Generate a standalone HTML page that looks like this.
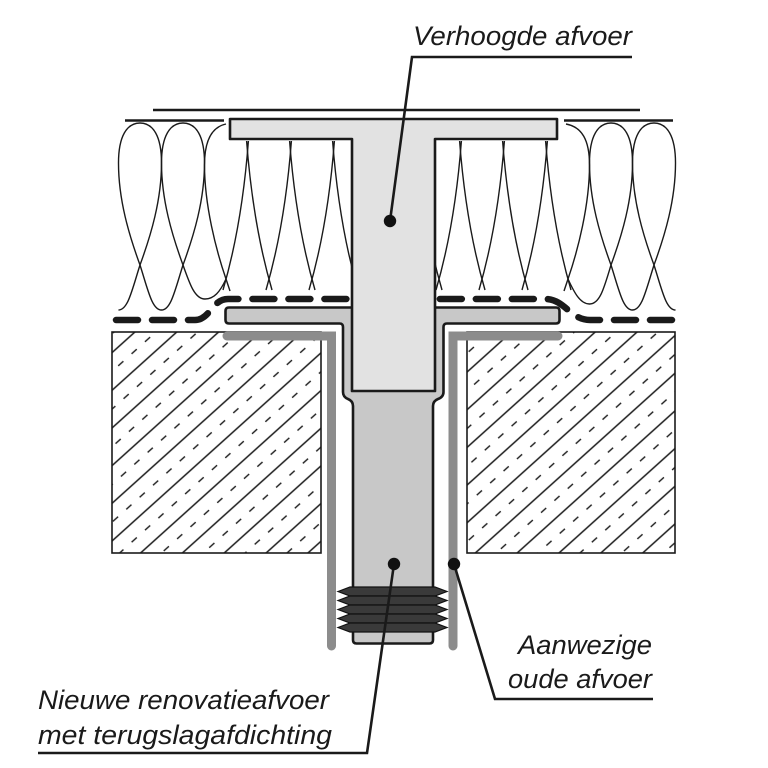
<!DOCTYPE html>
<html><head><meta charset="utf-8"><style>
html,body{margin:0;padding:0;background:#fff;}
svg{display:block;}
</style></head><body>
<svg width="768" height="768" viewBox="0 0 768 768" xmlns="http://www.w3.org/2000/svg">
<defs>
<pattern id="h" width="36" height="28" patternUnits="userSpaceOnUse" patternTransform="rotate(-42)">
<line x1="0" y1="1" x2="36" y2="1" stroke="#1a1a1a" stroke-width="1.4"/>
<line x1="5" y1="15" x2="12" y2="15" stroke="#1a1a1a" stroke-width="1.4"/>
<line x1="23" y1="15" x2="30" y2="15" stroke="#1a1a1a" stroke-width="1.4"/>
</pattern>
</defs>
<rect width="768" height="768" fill="#fff"/>

<!-- insulation -->
<g fill="none" stroke="#1a1a1a" stroke-width="1.4">
<path d="M140,265 C129,235 118.5,200 118.5,163 C118.5,136 127,123 140,123 C153,123 161.5,136 161.5,163 C161.5,200 151,235 140,265"/>
<path d="M183,265 C172,235 161.5,200 161.5,163 C161.5,136 170,123 183,123 C196,123 204.5,136 204.5,163 C204.5,200 194,235 183,265"/>
<path d="M611,265 C600,235 589.5,200 589.5,163 C589.5,136 598,123 611,123 C624,123 632.5,136 632.5,163 C632.5,200 622,235 611,265"/>
<path d="M654,265 C643,235 632.5,200 632.5,163 C632.5,136 641,123 654,123 C667,123 675.5,136 675.5,163 C675.5,200 665,235 654,265"/>
<path d="M140,265 C132,290 128,310 118.5,310"/>
<path d="M140,265 C148,290 152,310 161.5,310 C171,310 175,290 183,265"/>
<path d="M183,265 C190,285 195,299 205,299 C214,299 220,292 226,279"/>
<path d="M568,279 C574,292 580,304 589.5,304 C600,304 604,288 611,265"/>
<path d="M611,265 C619,290 623,310 632.5,310 C642,310 646,290 654,265"/>
<path d="M654,265 C662,290 666,310 675.5,310"/>
<path d="M226,279 C216,250 204.5,205 204.5,165 C204.5,140 212,127 226,124"/>
<path d="M226,279 L230,291"/>
<path d="M568,279 C578,250 589.5,205 589.5,165 C589.5,140 582,127 566,124"/>
<path d="M568,279 L564,291"/>
<path d="M248.4,141 Q242,225 223,290"/>
<path d="M246.6,141 Q253,225 272,290"/>
<path d="M291.4,141 Q285,225 266,290"/>
<path d="M289.6,141 Q296,225 315,290"/>
<path d="M334.4,141 Q328,225 309,290"/>
<path d="M332.6,141 Q339,225 358,290"/>
<path d="M416.6,141 Q423,225 442,290"/>
<path d="M461.4,141 Q455,225 436,290"/>
<path d="M459.6,141 Q466,225 485,290"/>
<path d="M504.4,141 Q498,225 479,290"/>
<path d="M502.6,141 Q509,225 528,290"/>
<path d="M547.4,141 Q541,225 522,290"/>
<path d="M545.6,141 Q552,225 571,290"/>
</g>

<!-- membrane -->
<g fill="none" stroke="#1a1a1a" stroke-width="6.5" stroke-linecap="round" stroke-dasharray="22 14">
<path d="M116,320 L195,320 C210,320 212,299 228,299 L350,299"/>
<path d="M672,320 L590,320 C570,320 565,299 545,299 L438,299"/>
</g>

<!-- concrete blocks -->
<rect x="112" y="332" width="209" height="221" fill="url(#h)" stroke="#1a1a1a" stroke-width="1.6"/>
<rect x="467" y="332" width="208" height="221" fill="url(#h)" stroke="#1a1a1a" stroke-width="1.6"/>

<!-- old drain -->
<g fill="none" stroke="#8c8c8c" stroke-width="9" stroke-linecap="round" stroke-linejoin="miter">
<path d="M227,336 L331.5,336 L331.5,646"/>
<path d="M453,646 L453,336 L558,336"/>
</g>

<!-- renovation drain -->
<path d="M229,307.5 L556,307.5 Q559.5,307.5 559.5,311 L559.5,320 Q559.5,323.5 556,323.5 L447,323.5 Q443.5,323.5 443.5,327 L443.5,392 Q443.5,397 438,399 Q433,401 433,406 L433,640 Q433,643.5 429.5,643.5 L356.5,643.5 Q353,643.5 353,640 L353,406 Q353,401 348,399 Q343,397 343,392 L343,327 Q343,323.5 339.5,323.5 L229,323.5 Q225.5,323.5 225.5,320 L225.5,311 Q225.5,307.5 229,307.5 Z" fill="#c8c8c8" stroke="#1a1a1a" stroke-width="2.6"/>

<!-- raised drain T -->
<path d="M230,119 L557,119 L557,139 L435,139 L435,391 L352,391 L352,139 L230,139 Z" fill="#e2e2e2" stroke="#1a1a1a" stroke-width="2.6" stroke-linejoin="round"/>

<!-- seal ribs -->
<g fill="#3a3a3a" stroke="#111" stroke-width="1.2">
<polygon points="338,591.5 350,587 435,587 447,591.5 435,596 350,596"/>
<polygon points="338,600.5 350,596 435,596 447,600.5 435,605 350,605"/>
<polygon points="338,609.5 350,605 435,605 447,609.5 435,614 350,614"/>
<polygon points="338,618.5 350,614 435,614 447,618.5 435,623 350,623"/>
<polygon points="338,627.5 350,623 435,623 447,627.5 435,632 350,632"/>
</g>

<!-- top lines -->
<g stroke="#1a1a1a" stroke-width="2.6" fill="none">
<line x1="153" y1="110" x2="640" y2="110"/>
<line x1="125" y1="120.5" x2="224" y2="120.5"/>
<line x1="564" y1="120.5" x2="673" y2="120.5"/>
</g>

<!-- leaders -->
<g stroke="#1a1a1a" stroke-width="2.6" fill="none" stroke-linejoin="miter">
<path d="M632,57 L412,57 L390,221"/>
<path d="M38,753 L367,753 L394,564"/>
<path d="M653,699 L495,699 L454,564"/>
</g>
<g fill="#111">
<circle cx="390" cy="221" r="6.2"/>
<circle cx="394" cy="564" r="6.2"/>
<circle cx="454" cy="564" r="6.2"/>
</g>

<!-- labels -->
<g font-family="'Liberation Sans', sans-serif" font-style="italic" font-size="27" fill="#1a1a1a">
<text x="413" y="45" textLength="219" lengthAdjust="spacingAndGlyphs">Verhoogde afvoer</text>
<text x="38" y="709" textLength="291" lengthAdjust="spacingAndGlyphs">Nieuwe renovatieafvoer</text>
<text x="38" y="744" textLength="294" lengthAdjust="spacingAndGlyphs">met terugslagafdichting</text>
<text x="518" y="654" textLength="134" lengthAdjust="spacingAndGlyphs">Aanwezige</text>
<text x="508" y="688" textLength="144" lengthAdjust="spacingAndGlyphs">oude afvoer</text>
</g>
</svg>
</body></html>
